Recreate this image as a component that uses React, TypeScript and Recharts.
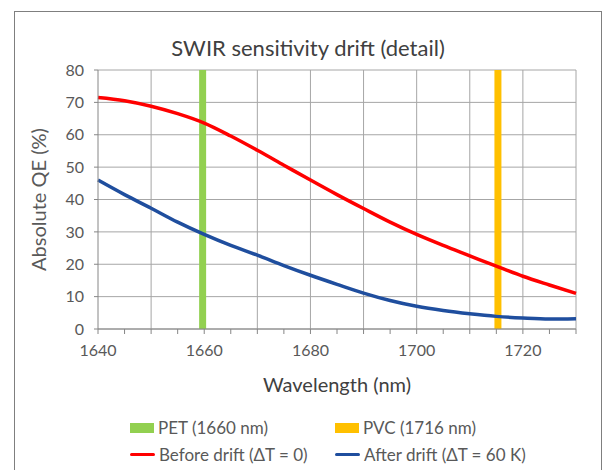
import {
  ComposedChart,
  CartesianGrid,
  Line,
  ReferenceLine,
  XAxis,
  YAxis,
} from 'recharts'

const wavelengths = [1640, 1645, 1650, 1655, 1660, 1665, 1670, 1675, 1680, 1685, 1690, 1695, 1700, 1705, 1710, 1715, 1720, 1725, 1730]
const beforeDrift = [71.5, 70.5, 68.8, 66.5, 63.6, 59.6, 55.2, 50.6, 46, 41.5, 37.2, 33, 29.2, 25.8, 22.6, 19.4, 16.3, 13.6, 11]
const afterDrift = [46, 41.5, 37.3, 33, 29.2, 25.8, 22.8, 19.6, 16.6, 13.8, 11.1, 8.8, 7, 5.7, 4.7, 3.9, 3.4, 3.1, 3.2]

const xTicks = [1640, 1645, 1650, 1655, 1660, 1665, 1670, 1675, 1680, 1685, 1690, 1695, 1700, 1705, 1710, 1715, 1720, 1725, 1730]
const xLabels = [1640, 1660, 1680, 1700, 1720]
const xGrid = [1650, 1660, 1670, 1680, 1690, 1700, 1710, 1720, 1730]
const yTicks = [0, 10, 20, 30, 40, 50, 60, 70, 80]

const petLine = 1659.7
const pvcLine = 1715.3

const data = wavelengths.map((w, i) => ({ w, before: beforeDrift[i], after: afterDrift[i] }))

const FONT = 'Lato, "Open Sans", sans-serif'
const TEXT = '#595959'
const GRID = '#a6a6a6'

function XTick({ x, y, payload }: any) {
  const v = payload.value
  if (!xLabels.includes(v)) return null
  return (
    <text x={x} y={y + 20} textAnchor="middle" fill={TEXT} fontSize={16} fontFamily={FONT}>
      {v}
    </text>
  )
}

function LegendBox() {
  const item = (swatch: any, label: string) => (
    <div style={{ display: 'flex', alignItems: 'center', height: 27 }}>
      {swatch}
      <span style={{ marginLeft: 4 }}>{label}</span>
    </div>
  )
  const bar = (c: string) => <div style={{ width: 24, height: 10, background: c }} />
  const line = (c: string) => <div style={{ width: 25, height: 3, background: c, borderRadius: 2 }} />
  return (
    <div
      style={{
        position: 'absolute',
        left: 0,
        top: 414,
        display: 'grid',
        gridTemplateColumns: '205px 240px',
        paddingLeft: 130,
        fontFamily: FONT,
        fontSize: 17,
        color: TEXT,
      }}
    >
      {item(bar('#92d050'), 'PET (1660 nm)')}
      {item(bar('#ffc000'), 'PVC (1716 nm)')}
      {item(line('#ff0000'), 'Before drift (ΔT = 0)')}
      {item(line('#1f4e9e'), 'After drift (ΔT = 60 K)')}
    </div>
  )
}

export default function App() {
  return (
    <div style={{ position: 'absolute', left: 0, top: 0, width: 610, height: 470, background: '#fff', overflow: 'hidden' }}>
      <div
        style={{
          position: 'absolute',
          left: 14,
          top: 11,
          width: 588,
          height: 470,
          border: '1px solid #7f7f7f',
          borderBottom: 'none',
          boxSizing: 'border-box',
        }}
      />
      <div
        style={{
          position: 'absolute',
          left: 0,
          top: 34,
          width: 610,
          textAlign: 'center',
          fontFamily: FONT,
          fontSize: 22,
          color: '#404040',
          paddingLeft: 6,
          boxSizing: 'border-box',
        }}
      >
        SWIR sensitivity drift (detail)
      </div>
      <ComposedChart
        width={610}
        height={470}
        data={data}
        margin={{ top: 70, right: 34, bottom: 111, left: 38 }}
        style={{ position: 'absolute', left: 0, top: 0 }}
      >
        <CartesianGrid vertical={false} stroke={GRID} />
        {xGrid.map((g) => (
          <ReferenceLine key={g} x={g} stroke={GRID} />
        ))}
        <XAxis
          type="number"
          dataKey="w"
          domain={[1640, 1730]}
          ticks={xTicks}
          interval={0}
          tick={<XTick />}
          tickSize={5}
          tickLine={{ stroke: '#868686' }}
          axisLine={{ stroke: '#868686' }}
          label={{ value: 'Wavelength (nm)', position: 'insideBottom', offset: -33, fill: '#404040', fontSize: 20, fontFamily: FONT }}
          height={30}
        />
        <YAxis
          type="number"
          domain={[0, 80]}
          ticks={yTicks}
          interval={0}
          tickSize={4}
          tickMargin={10}
          tickLine={{ stroke: '#868686' }}
          axisLine={{ stroke: '#868686' }}
          tick={{ fill: TEXT, fontSize: 16, fontFamily: FONT }}
          width={60}
          label={{ value: 'Absolute QE (%)', angle: -90, position: 'insideLeft', offset: 1, fill: TEXT, fontSize: 20, fontFamily: FONT, style: { textAnchor: 'middle' } }}
        />
        <ReferenceLine x={petLine} stroke="#92d050" strokeWidth={7} />
        <ReferenceLine x={pvcLine} stroke="#ffc000" strokeWidth={7} />
        <Line type="monotone" dataKey="before" stroke="#ff0000" strokeWidth={3.5} dot={false} isAnimationActive={false} />
        <Line type="monotone" dataKey="after" stroke="#1f4e9e" strokeWidth={3.5} dot={false} isAnimationActive={false} />
      </ComposedChart>
      <LegendBox />
    </div>
  )
}
